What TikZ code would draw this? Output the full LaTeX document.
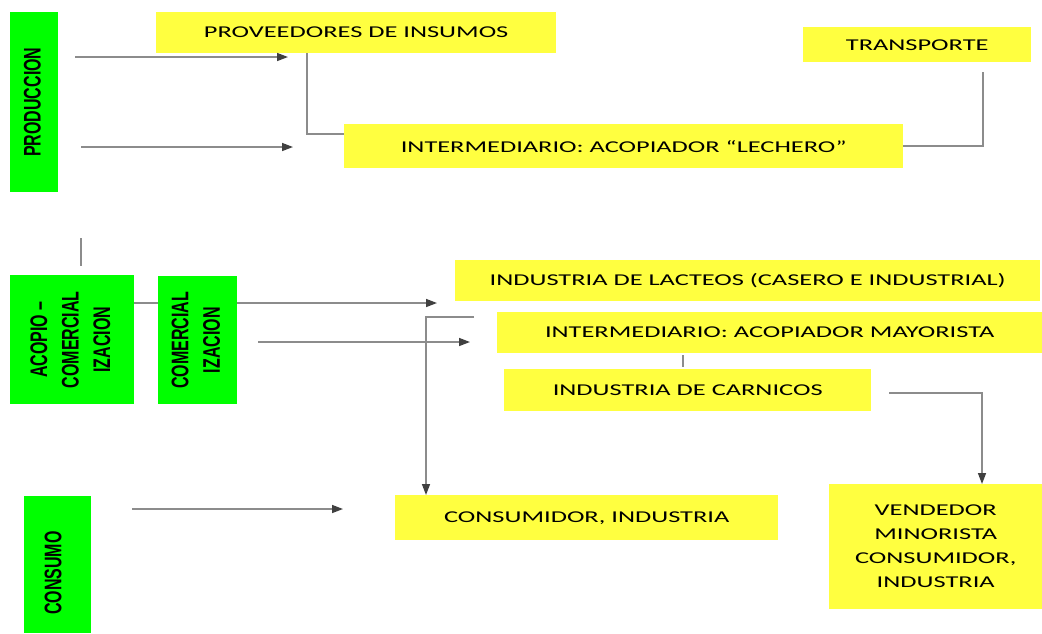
\documentclass[tikz,border=0pt]{standalone}
\usepackage{fontspec}
\setmainfont{Carlito}
\newfontfamily\gfont{Liberation Sans}
\usetikzlibrary{arrows.meta}
\definecolor{yel}{RGB}{255,255,64}
\definecolor{grn}{RGB}{0,255,0}
\definecolor{lncol}{RGB}{140,140,140}
\definecolor{tipcol}{RGB}{64,64,64}
\newcommand{\yt}[1]{\scalebox{1.6}[1]{#1}}
\newcommand{\gt}[1]{\scalebox{1}[1.5]{\begin{tabular}{@{}c@{}}#1\end{tabular}}}
\begin{document}
\begin{tikzpicture}[x=1pt,y=-1pt,
  ybox/.style={fill=yel, inner sep=0, anchor=north west, font=\fontsize{16.5}{24}\selectfont},
  gbox/.style={fill=grn, inner sep=0, anchor=north west},
  gtext/.style={rotate=90, inner sep=0, font=\gfont\bfseries\fontsize{16}{21}\selectfont},
  conn/.style={draw=lncol, line width=1.5pt},
  arr/.style={conn, -{Triangle[length=11pt,width=8pt,color=tipcol]}}]
\path[use as bounding box, fill=white] (0,0) rectangle (1042,633);

% green boxes
\node[gbox, minimum width=48pt, minimum height=180pt] (prod) at (10,12) {};
\node[gtext] (prodt) at (prod.center) {\gt{PRODUCCION}};
\node[gbox, minimum width=124pt, minimum height=129pt] (acop) at (10,275) {};
\node[gtext] (acopt) at (acop.center) {\gt{ACOPIO –\\COMERCIAL\\IZACION}};
\node[gbox, minimum width=79pt, minimum height=128pt] (comz) at (158,276) {};
\node[gtext] (comzt) at (comz.center) {\gt{COMERCIAL\\IZACION}};
\node[gbox, minimum width=67pt, minimum height=137pt] (cons) at (24,496) {};
\node[gtext] (const) at (55,573) {\gt{CONSUMO}};

% yellow boxes
\node[ybox, minimum width=400pt, minimum height=41pt] (prov) at (156,12) {\yt{PROVEEDORES DE INSUMOS}};
\node[ybox, minimum width=228pt, minimum height=35pt] (trans) at (803,27) {\yt{TRANSPORTE}};
\node[ybox, minimum width=559pt, minimum height=44pt] (lech) at (344,124) {\yt{INTERMEDIARIO: ACOPIADOR “LECHERO”}};
\node[ybox, minimum width=585pt, minimum height=41pt] (lact) at (455,260) {\yt{INDUSTRIA DE LACTEOS (CASERO E INDUSTRIAL)}};
\node[ybox, minimum width=545pt, minimum height=41pt] (mayo) at (497,312) {\yt{INTERMEDIARIO: ACOPIADOR MAYORISTA}};
\node[ybox, minimum width=367pt, minimum height=42pt] (carn) at (504,369) {\yt{INDUSTRIA DE CARNICOS}};
\node[ybox, minimum width=383pt, minimum height=45pt] (cind) at (395,495) {\yt{CONSUMIDOR, INDUSTRIA}};
\node[ybox, minimum width=213pt, minimum height=125pt] (vend) at (829,484) {\yt{\begin{tabular}{@{}c@{}}VENDEDOR\\MINORISTA\\CONSUMIDOR,\\INDUSTRIA\end{tabular}}};

% coordinates
\coordinate (a1s) at (75,57);   \coordinate (a1e) at (288,57);
\coordinate (a2s) at (81,147);  \coordinate (a2e) at (293,147);
\coordinate (k1) at (307,134);
\coordinate (k2) at (983,72);
\coordinate (v1) at (81,238);   \coordinate (v2) at (81,266);
\coordinate (h3) at (0,303);
\coordinate (a3e) at (437,303);
\coordinate (a4s) at (258,342); \coordinate (a4e) at (470,342);
\coordinate (k5) at (474,317);  \coordinate (k6) at (426,317);
\coordinate (k7) at (683,355);  \coordinate (k8) at (683,367);
\coordinate (k9) at (889,393);  \coordinate (k10) at (982,393);
\coordinate (a5s) at (132,509); \coordinate (a5e) at (343,509);

% connectors
\draw[arr] (a1s) -- (a1e);
\draw[arr] (a2s) -- (a2e);
\draw[conn] (k1 |- prov.south) -- (k1) -- (k1 -| lech.west);
\draw[conn] (lech.east) -| (k2);
\draw[conn] (v1) -- (v2);
\draw[conn] (acop.east |- h3) -- (comz.west |- h3);
\draw[arr] (comz.east |- h3) -- (a3e);
\draw[arr] (a4s) -- (a4e);
\draw[arr] (k5) -- (k6) -- (k6 |- cind.north);
\draw[conn] (k7) -- (k8);
\draw[arr] (k9) -- (k10) -- (k10 |- vend.north);
\draw[arr] (a5s) -- (a5e);
\end{tikzpicture}
\end{document}
